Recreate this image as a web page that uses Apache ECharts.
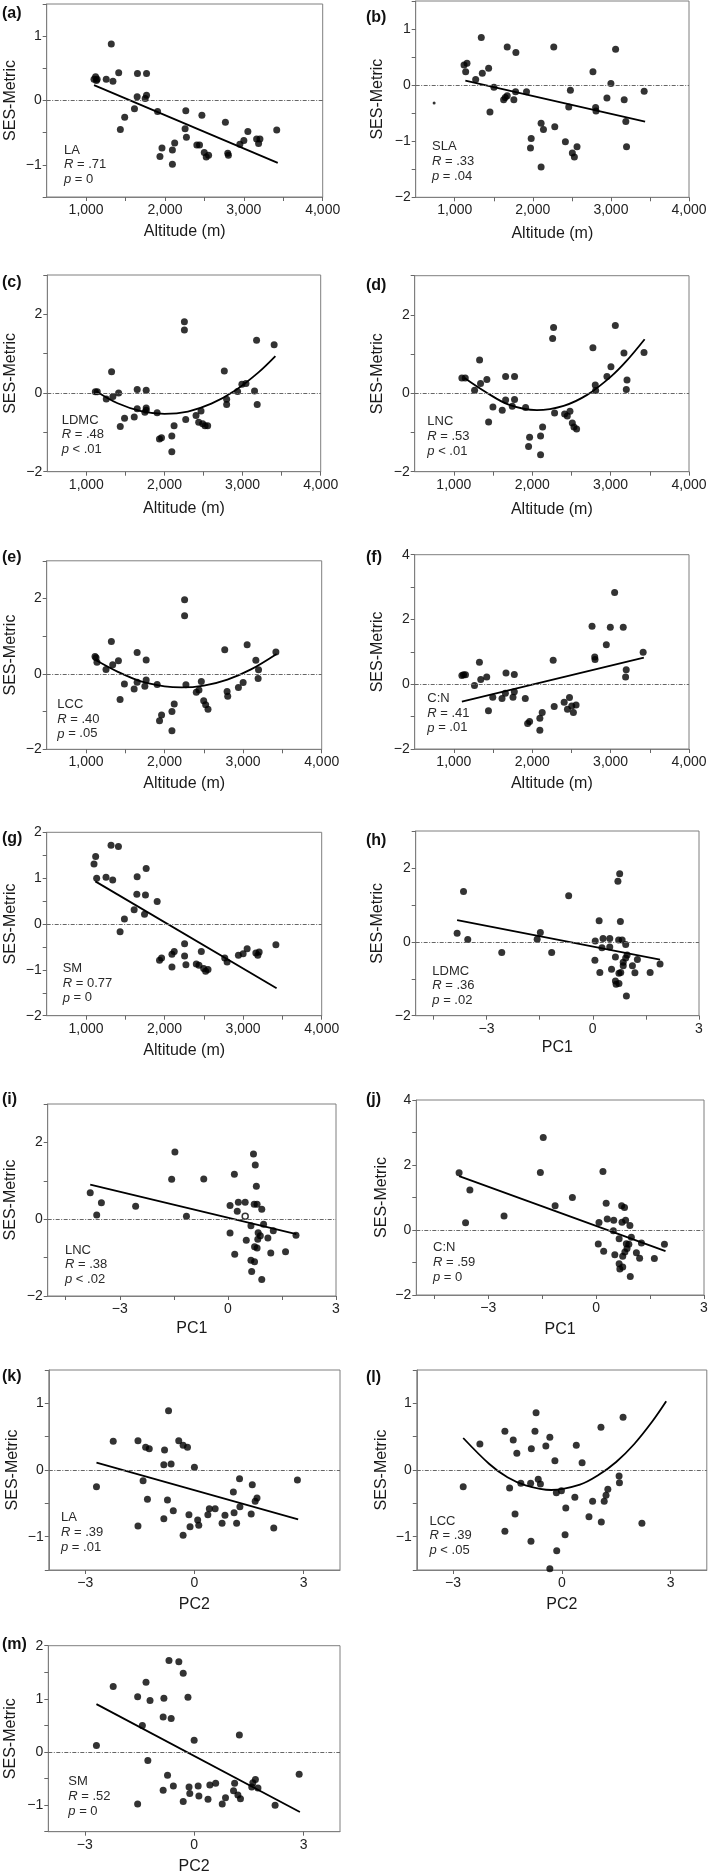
<!DOCTYPE html>
<html><head><meta charset="utf-8">
<script src="https://cdn.jsdelivr.net/npm/echarts@6/dist/echarts.min.js"></script>
<style>html,body{margin:0;padding:0;background:#fff}#chart{width:709px;height:1875px}</style>
</head><body><div id="chart"></div>
<script>
// ---------- tick values ----------
const altTicks = [1000,1500,2000,2500,3000,3500,4000];
const altLabels = [1000,2000,3000,4000];
const pc1Ticks = [-4.5,-3,-1.5,0,1.5,3];
const pc1Labels = [-3,0,3];
const pc2Ticks = [-3,0,3];
const pc2Labels = [-3,0,3];
const yTicksA = [-1.5,-1,-0.5,0,0.5,1,1.5];
const yLabelsA = [-1,0,1];
const yTicksB = [-2,-1.5,-1,-0.5,0,0.5,1,1.5];
const yLabelsB = [-2,-1,0,1];
const yTicks3 = [-2,-1,0,1,2,3];
const yLabels3 = [-2,0,2];
const yTicks4 = [-2,-1,0,1,2,3,4];
const yLabels4 = [-2,0,2,4];
const yTicksG = [-2,-1.5,-1,-0.5,0,0.5,1,1.5,2];
const yLabelsG = [-2,-1,0,1,2];
const yTicksM = [-1.5,-1,-0.5,0,0.5,1,1.5,2];
const yLabelsM = [-1,0,1,2];

// ---------- panel data ----------
const a_points = [[1100,0.33],[1120,0.37],[1130,0.31],[1140,0.33],[1255,0.33],[1319,0.88],[1340,0.30],[1413,0.43],[1434,-0.45],[1489,-0.26],[1613,-0.13],[1651,0.42],[1647,0.06],[1766,0.42],[1749,0.03],[1766,0.08],[1906,-0.17],[1936,-0.87],[1962,-0.74],[2094,-0.99],[2094,-0.77],[2123,-0.66],[2255,-0.44],[2264,-0.16],[2272,-0.57],[2404,-0.69],[2438,-0.69],[2468,-0.23],[2498,-0.81],[2523,-0.88],[2553,-0.85],[2766,-0.34],[2796,-0.82],[2804,-0.85],[2949,-0.68],[3000,-0.62],[3051,-0.48],[3162,-0.60],[3187,-0.67],[3204,-0.60],[3417,-0.46]];
const a_fit = [[1100,0.24],[3430,-0.97]];
const a_stats = ['LA','.71','= 0'];

const b_points = [[1119,0.36],[1157,0.39],[1140,0.24],[1268,0.10],[1340,0.85],[1353,0.21],[1434,0.30],[1451,-0.48],[1502,-0.04],[1626,-0.26],[1647,-0.22],[1672,-0.19],[1672,0.68],[1757,-0.26],[1779,-0.12],[1783,0.58],[1919,-0.12],[1970,-1.12],[1979,-0.95],[2106,-0.68],[2106,-1.46],[2136,-0.79],[2268,0.68],[2281,-0.74],[2417,-1.01],[2460,-0.39],[2481,-0.09],[2506,-1.21],[2532,-1.28],[2566,-1.10],[2770,0.24],[2804,-0.40],[2809,-0.46],[2949,-0.23],[3000,0.03],[3060,0.64],[3170,-0.26],[3191,-0.65],[3200,-1.10],[3426,-0.11]];
const b_small = [[736,-0.32]];
const b_fit = [[1136,0.08],[3438,-0.65]];
const b_stats = ['SLA','.33','= .04'];

const c_points = [[1115,0.03],[1140,0.03],[1255,-0.15],[1323,0.54],[1340,-0.09],[1413,0.00],[1434,-0.85],[1489,-0.64],[1613,-0.61],[1651,0.09],[1651,-0.40],[1749,-0.49],[1766,0.07],[1766,-0.38],[1766,-0.44],[1906,-0.50],[1936,-1.17],[1962,-1.14],[2094,-1.09],[2094,-1.49],[2123,-0.83],[2255,1.81],[2255,1.60],[2272,-0.67],[2404,-0.57],[2438,-0.74],[2468,-0.46],[2489,-0.78],[2519,-0.83],[2553,-0.83],[2766,0.56],[2796,-0.16],[2796,-0.29],[2936,0.04],[2991,0.22],[3043,0.24],[3153,0.05],[3179,1.34],[3187,-0.29],[3404,1.23]];
const c_fit = [[1130,0.04],[1400,-0.26],[1700,-0.46],[2000,-0.53],[2300,-0.47],[2600,-0.27],[2900,0.06],[3200,0.52],[3420,0.94]];
const c_stats = ['LDMC','.48','< .01'];

const d_points = [[1102,0.39],[1145,0.39],[1264,0.08],[1328,0.85],[1340,0.25],[1421,0.35],[1443,-0.73],[1498,-0.35],[1617,-0.43],[1660,0.43],[1660,-0.17],[1745,-0.33],[1774,0.43],[1774,-0.16],[1915,-0.36],[1953,-1.36],[1966,-1.12],[2106,-1.09],[2106,-1.57],[2132,-0.86],[2272,1.68],[2260,1.40],[2285,-0.50],[2413,-0.53],[2447,-0.58],[2481,-0.46],[2511,-0.76],[2532,-0.86],[2566,-0.91],[2774,1.16],[2804,0.21],[2809,0.07],[2953,0.43],[3004,0.68],[3060,1.73],[3170,1.03],[3209,0.34],[3200,0.10],[3426,1.04]];
const d_fit = [[1136,0.39],[1400,0.04],[1700,-0.29],[2060,-0.43],[2400,-0.32],[2700,-0.04],[3000,0.42],[3200,0.82],[3434,1.38]];
const d_stats = ['LNC','.53','< .01'];

const e_points = [[1115,0.46],[1128,0.43],[1140,0.31],[1255,0.12],[1323,0.86],[1340,0.24],[1413,0.35],[1434,-0.68],[1489,-0.27],[1613,-0.40],[1651,0.57],[1651,-0.22],[1749,-0.33],[1766,0.37],[1766,-0.16],[1906,-0.28],[1936,-1.24],[1962,-1.09],[2094,-1.00],[2094,-1.51],[2123,-0.80],[2255,1.97],[2255,1.54],[2272,-0.29],[2404,-0.49],[2438,-0.43],[2468,-0.20],[2498,-0.71],[2523,-0.82],[2553,-0.94],[2766,0.64],[2796,-0.47],[2804,-0.59],[2940,-0.36],[3000,-0.23],[3051,0.77],[3162,0.36],[3196,0.11],[3191,-0.12],[3417,0.58]];
const e_fit = [[1128,0.36],[1400,0.06],[1700,-0.20],[2000,-0.33],[2216,-0.36],[2500,-0.31],[2800,-0.15],[3100,0.12],[3426,0.53]];
const e_stats = ['LCC','.40','= .05'];

const f_points = [[1102,0.27],[1123,0.29],[1148,0.29],[1263,-0.04],[1326,0.68],[1343,0.15],[1419,0.22],[1441,-0.82],[1496,-0.40],[1614,-0.44],[1665,0.35],[1657,-0.28],[1754,-0.40],[1771,0.30],[1771,-0.23],[1911,-0.44],[1941,-1.21],[1966,-1.15],[2097,-1.05],[2097,-1.42],[2127,-0.87],[2267,0.74],[2280,-0.69],[2407,-0.56],[2449,-0.77],[2475,-0.41],[2504,-0.67],[2525,-0.87],[2559,-0.64],[2763,1.79],[2797,0.84],[2801,0.76],[2945,1.22],[2996,1.76],[3051,2.83],[3161,1.76],[3199,0.45],[3191,0.22],[3415,0.99]];
const f_fit = [[1102,-0.54],[3424,0.82]];
const f_stats = ['C:N','.41','= .01'];

const g_points = [[1102,1.31],[1123,1.47],[1136,1.00],[1255,1.02],[1319,1.72],[1340,0.96],[1413,1.69],[1434,-0.17],[1489,0.11],[1613,0.31],[1651,1.03],[1647,0.65],[1766,1.21],[1757,0.63],[1745,0.21],[1906,0.49],[1936,-0.79],[1962,-0.74],[2094,-0.66],[2094,-0.94],[2123,-0.60],[2255,-0.43],[2255,-0.70],[2272,-0.89],[2404,-0.87],[2438,-0.90],[2468,-0.60],[2498,-0.97],[2523,-1.03],[2553,-0.99],[2766,-0.74],[2796,-0.83],[2940,-0.68],[3000,-0.65],[3051,-0.54],[3162,-0.63],[3187,-0.68],[3204,-0.61],[3417,-0.45]];
const g_fit = [[1119,0.93],[3426,-1.40]];
const g_stats = ['SM','0.77','= 0'];

const h_points = [[-3.83,0.23],[-3.65,1.36],[-3.53,0.06],[-2.57,-0.29],[-1.57,0.07],[-1.48,0.25],[-1.16,-0.29],[-0.68,1.25],[0.06,-0.50],[0.07,0.02],[0.18,0.57],[0.20,-0.83],[0.26,-0.16],[0.29,0.09],[0.48,0.09],[0.48,-0.14],[0.53,-0.74],[0.64,-0.41],[0.64,-1.06],[0.66,-1.15],[0.71,1.64],[0.74,-0.85],[0.76,1.84],[0.74,-1.13],[0.73,0.05],[0.78,0.55],[0.79,-0.83],[0.83,0.05],[0.86,-0.55],[0.86,-0.65],[0.93,-0.07],[0.93,-0.44],[0.95,-1.47],[0.97,-0.36],[1.12,-0.65],[1.19,-0.84],[1.26,-0.48],[1.62,-0.83],[1.90,-0.60]];
const h_fit = [[-3.83,0.59],[1.90,-0.48]];
const h_stats = ['LDMC','.36','= .02'];

const i_points = [[-3.82,0.69],[-3.64,0.11],[-3.51,0.43],[-2.56,0.34],[-1.56,1.04],[-1.47,1.75],[-1.15,0.08],[-0.67,1.05],[0.06,-0.36],[0.06,0.36],[0.18,1.17],[0.19,-0.91],[0.26,0.21],[0.29,0.44],[0.48,0.44],[0.51,-0.55],[0.64,-0.17],[0.64,-1.07],[0.66,-1.36],[0.71,1.70],[0.74,-0.72],[0.76,1.41],[0.74,-1.11],[0.73,0.39],[0.79,0.86],[0.81,-0.75],[0.81,0.39],[0.84,-0.35],[0.83,-0.52],[0.94,0.26],[0.90,-0.43],[0.94,-1.57],[0.99,-0.13],[1.11,-0.49],[1.19,-0.88],[1.26,-0.30],[1.60,-0.85],[1.89,-0.42]];
const i_hollow = [[0.48,0.08]];
const i_fit = [[-3.82,0.90],[1.90,-0.39]];
const i_stats = ['LNC','.38','< .02'];

const j_points = [[-3.81,1.76],[-3.63,0.22],[-3.51,1.23],[-2.56,0.43],[-1.55,1.77],[-1.47,2.85],[-1.14,0.75],[-0.66,1.00],[0.06,-0.43],[0.08,0.23],[0.19,1.80],[0.21,-0.65],[0.28,0.82],[0.31,0.34],[0.49,0.30],[0.48,-0.02],[0.52,-0.76],[0.64,-0.27],[0.64,-1.04],[0.66,-1.20],[0.71,0.75],[0.74,-0.81],[0.79,0.69],[0.74,-1.14],[0.72,0.24],[0.82,0.30],[0.80,-0.68],[0.84,-0.42],[0.86,-0.57],[0.94,0.14],[0.91,-0.44],[0.95,-1.43],[0.98,-0.22],[1.12,-0.70],[1.21,-0.87],[1.26,-0.40],[1.62,-0.88],[1.90,-0.44]];
const j_fit = [[-3.81,1.66],[1.93,-0.65]];
const j_stats = ['C:N','.59','= 0'];

const k_points = [[-2.69,-0.25],[-2.23,0.43],[-1.55,0.44],[-1.55,-0.84],[-1.41,-0.16],[-1.34,0.34],[-1.24,0.32],[-1.29,-0.44],[-0.84,0.08],[-0.82,0.30],[-0.84,-0.73],[-0.74,-0.45],[-0.71,0.89],[-0.64,0.09],[-0.58,-0.61],[-0.43,0.44],[-0.31,0.37],[-0.31,-0.98],[-0.19,0.34],[-0.15,-0.67],[-0.12,-0.85],[0.00,0.04],[0.09,-0.75],[0.12,-0.83],[0.37,-0.67],[0.41,-0.58],[0.57,-0.58],[0.76,-0.80],[0.84,-0.68],[1.07,-0.33],[1.09,-0.64],[1.16,-0.80],[1.24,-0.13],[1.25,-0.55],[1.56,-0.66],[1.59,-0.22],[1.67,-0.47],[1.72,-0.42],[2.18,-0.87],[2.83,-0.15]];
const k_fit = [[-2.69,0.11],[2.85,-0.74]];
const k_stats = ['LA','.39','= .01'];

const l_points = [[-2.72,-0.25],[-2.26,0.39],[-1.57,0.58],[-1.57,-0.92],[-1.44,-0.27],[-1.34,0.45],[-1.29,-0.66],[-1.24,0.25],[-1.13,-0.20],[-0.85,-1.07],[-0.84,0.32],[-0.86,-0.20],[-0.74,0.58],[-0.71,0.86],[-0.65,-0.14],[-0.59,-0.21],[-0.44,0.36],[-0.33,0.49],[-0.33,-1.48],[-0.19,0.14],[-0.15,-0.34],[-0.14,-1.21],[-0.01,-0.31],[0.09,-0.97],[0.11,-0.57],[0.36,-0.41],[0.40,0.37],[0.56,0.11],[0.75,-0.70],[0.85,-0.47],[1.09,-0.78],[1.08,0.64],[1.17,-0.47],[1.22,-0.38],[1.27,-0.29],[1.58,-0.09],[1.59,-0.19],[1.69,0.79],[2.21,-0.80]];
const l_fit = [[-2.72,0.48],[-2.0,0.09],[-1.5,-0.11],[-1.0,-0.23],[-0.29,-0.30],[0.5,-0.22],[1.0,-0.08],[1.5,0.12],[2.0,0.39],[2.5,0.73],[2.88,1.03]];
const l_stats = ['LCC','.39','< .05'];

const m_points = [[-2.68,0.12],[-2.22,1.23],[-1.55,1.04],[-1.55,-0.98],[-1.42,0.50],[-1.32,1.31],[-1.27,-0.16],[-1.21,0.97],[-0.85,0.66],[-0.83,1.01],[-0.85,-0.72],[-0.73,-0.44],[-0.69,1.72],[-0.63,0.63],[-0.57,-0.64],[-0.42,1.70],[-0.30,1.48],[-0.30,-0.93],[-0.17,1.03],[-0.14,-0.66],[-0.12,-0.78],[0.00,0.22],[0.11,-0.64],[0.13,-0.83],[0.38,-0.89],[0.43,-0.62],[0.59,-0.59],[0.77,-0.98],[0.86,-0.86],[1.11,-0.59],[1.08,-0.73],[1.20,-0.81],[1.27,-0.88],[1.24,0.32],[1.58,-0.66],[1.61,-0.58],[1.68,-0.52],[1.75,-0.68],[2.22,-1.00],[2.88,-0.42]];
const m_fit = [[-2.68,0.90],[2.90,-1.13]];
const m_stats = ['SM','.52','= 0'];

// ---------- layout (positions in px) ----------
const FONT = '"Liberation Sans", Arial, Helvetica, sans-serif';
const ALT = 'Altitude (m)';
const panels = [
 {tag:'(a)', pts:a_points, fit:a_fit, curve:false, stats:a_stats, xr:[500,4000], yr:[-1.5,1.5], xt:altTicks, xl:altLabels, yt:yTicksA, yl:yLabelsA, xname:ALT, box:[46.7,4,276,193], tagPos:[2,14], ann:[64,150], xGap:35, yGap:28},
 {tag:'(b)', pts:b_points, small:b_small, fit:b_fit, curve:false, stats:b_stats, xr:[500,4000], yr:[-2,1.5], xt:altTicks, xl:altLabels, yt:yTicksB, yl:yLabelsB, xname:ALT, box:[415.7,1,273.3,196.3], tagPos:[366,17.5], ann:[432,146.7], xGap:36, yGap:30},
 {tag:'(c)', pts:c_points, fit:c_fit, curve:true, stats:c_stats, xr:[500,4000], yr:[-2,3], xt:altTicks, xl:altLabels, yt:yTicks3, yl:yLabels3, xname:ALT, box:[47.3,275,273.4,196.7], tagPos:[2,283], ann:[61.7,420], xGap:36.5, yGap:29},
 {tag:'(d)', pts:d_points, fit:d_fit, curve:true, stats:d_stats, xr:[500,4000], yr:[-2,3], xt:altTicks, xl:altLabels, yt:yTicks3, yl:yLabels3, xname:ALT, box:[414.7,275.7,274.3,196], tagPos:[366,286], ann:[427.3,421.7], xGap:37.5, yGap:29},
 {tag:'(e)', pts:e_points, fit:e_fit, curve:true, stats:e_stats, xr:[500,4000], yr:[-2,3], xt:altTicks, xl:altLabels, yt:yTicks3, yl:yLabels3, xname:ALT, box:[46.7,560.8,275,188.5], tagPos:[2,557.5], ann:[57.3,704.3], xGap:34, yGap:28},
 {tag:'(f)', pts:f_points, fit:f_fit, curve:false, stats:f_stats, xr:[500,4000], yr:[-2,4], xt:altTicks, xl:altLabels, yt:yTicks4, yl:yLabels4, xname:ALT, box:[414.7,554.7,274.3,194.3], tagPos:[366,557.5], ann:[427.3,698.3], xGap:34.5, yGap:29},
 {tag:'(g)', pts:g_points, fit:g_fit, curve:false, stats:g_stats, xr:[500,4000], yr:[-2,2], xt:altTicks, xl:altLabels, yt:yTicksG, yl:yLabelsG, xname:ALT, box:[46.7,832.3,275,183.4], tagPos:[2,839], ann:[62.7,968.3], xGap:35, yGap:28},
 {tag:'(h)', pts:h_points, fit:h_fit, curve:false, stats:h_stats, xr:[-5,3], yr:[-2,3], xt:pc1Ticks, xl:pc1Labels, yt:yTicks3, yl:yLabels3, xname:'PC1', box:[415.7,831,283.3,184.7], tagPos:[366,840.8], ann:[432.3,971], xGap:31.5, yGap:30},
 {tag:'(i)', pts:i_points, hollow:i_hollow, fit:i_fit, curve:false, stats:i_stats, xr:[-5,3], yr:[-2,3], xt:pc1Ticks, xl:pc1Labels, yt:yTicks3, yl:yLabels3, xname:'PC1', box:[47.7,1104,288.3,192], tagPos:[2,1100], ann:[65,1250], xGap:33, yGap:29},
 {tag:'(j)', pts:j_points, fit:j_fit, curve:false, stats:j_stats, xr:[-5,3], yr:[-2,4], xt:pc1Ticks, xl:pc1Labels, yt:yTicks4, yl:yLabels4, xname:'PC1', box:[416.3,1100,287.7,195], tagPos:[366,1100], ann:[433,1247.7], xGap:34.5, yGap:27},
 {tag:'(k)', pts:k_points, fit:k_fit, curve:false, stats:k_stats, xr:[-4,4], yr:[-1.5,1.5], xt:pc2Ticks, xl:pc2Labels, yt:yTicksA, yl:yLabelsA, xname:'PC2', box:[48.8,1370,291.2,200], tagPos:[2,1377], ann:[61,1517.7], xGap:34.5, yGap:28},
 {tag:'(l)', pts:l_points, fit:l_fit, curve:true, stats:l_stats, xr:[-4,4], yr:[-1.5,1.5], xt:pc2Ticks, xl:pc2Labels, yt:yTicksA, yl:yLabelsA, xname:'PC2', box:[416.8,1370,290,200], tagPos:[366,1378], ann:[429.5,1521], xGap:34.5, yGap:27},
 {tag:'(m)', pts:m_points, fit:m_fit, curve:false, stats:m_stats, xr:[-4,4], yr:[-1.5,2], xt:pc2Ticks, xl:pc2Labels, yt:yTicksM, yl:yLabelsM, xname:'PC2', box:[48.3,1645.7,291.7,186], tagPos:[2,1645], ann:[68.3,1781.7], xGap:34.5, yGap:30}
];

function fmt(v){
  let s = Math.abs(v) >= 1000 ? v.toLocaleString('en-US') : String(v);
  return s.replace('-', '\u2212');
}

const grids=[], xAxes=[], yAxes=[], series=[], graphics=[];
const FRAME = '#7f7f7f';
panels.forEach((p,i)=>{
  grids.push({left:p.box[0], top:p.box[1], width:p.box[2], height:p.box[3], show:true, borderColor:FRAME, borderWidth:1, backgroundColor:'transparent', containLabel:false, outerBoundsMode:'none'});
  xAxes.push({gridIndex:i, type:'value', min:p.xr[0], max:p.xr[1], name:p.xname, nameLocation:'middle', nameGap:p.xGap, nameMoveOverlap:false,
    nameTextStyle:{fontSize:16, color:'#1a1a1a', fontFamily:FONT, verticalAlign:'middle'},
    axisLine:{show:true, onZero:false, lineStyle:{color:FRAME, width:1}},
    axisTick:{show:true, inside:false, length:4, customValues:p.xt, lineStyle:{color:'#666'}},
    axisLabel:{show:true, customValues:p.xl, margin:6, fontSize:14, color:'#222', fontFamily:FONT, formatter:fmt},
    splitLine:{show:false}, minorTick:{show:false}});
  yAxes.push({gridIndex:i, type:'value', min:p.yr[0], max:p.yr[1], name:'SES-Metric', nameLocation:'middle', nameGap:p.yGap, nameMoveOverlap:false,
    nameTextStyle:{fontSize:16, color:'#1a1a1a', fontFamily:FONT},
    axisLine:{show:true, onZero:false, lineStyle:{color:FRAME, width:1}},
    axisTick:{show:true, inside:false, length:4, customValues:p.yt, lineStyle:{color:'#666'}},
    axisLabel:{show:true, customValues:p.yl, margin:5, fontSize:14, color:'#222', fontFamily:FONT, formatter:fmt},
    splitLine:{show:false}});
  series.push({type:'scatter', xAxisIndex:i, yAxisIndex:i, data:p.pts, symbol:'circle', symbolSize:7, itemStyle:{color:'#000'}, z:3,
    markLine:{silent:true, symbol:'none', label:{show:false}, animation:false,
      lineStyle:{color:'#666', width:1, type:[4,1.5,1,1.5]}, data:[{yAxis:0}]}});
  if (p.small) series.push({type:'scatter', xAxisIndex:i, yAxisIndex:i, data:p.small, symbolSize:3, itemStyle:{color:'#000'}, z:3});
  if (p.hollow) series.push({type:'scatter', xAxisIndex:i, yAxisIndex:i, data:p.hollow, symbolSize:6, itemStyle:{color:'#fff', borderColor:'#000', borderWidth:1.5}, z:3});
  series.push({type:'line', xAxisIndex:i, yAxisIndex:i, data:p.fit, symbol:'none', showSymbol:false, smooth:p.curve?0.35:false,
    lineStyle:{color:'#000', width:1.8}, z:4});
  graphics.push({type:'text', x:p.tagPos[0], y:p.tagPos[1], style:{text:p.tag, fontSize:16, fontWeight:'bold', fontFamily:FONT, fill:'#111', align:'left', verticalAlign:'middle'}});
  const lines = [p.stats[0], '{i|R} = ' + p.stats[1], '{i|p} ' + p.stats[2]];
  lines.forEach((t,k)=>{
    graphics.push({type:'text', x:p.ann[0], y:p.ann[1] + k*14.8, style:{text:t, fontSize:13, fontFamily:FONT, fill:'#2a2a2a', align:'left', verticalAlign:'middle',
      rich:{i:{fontStyle:'italic', fontSize:13, fontFamily:FONT, fill:'#2a2a2a'}}}});
  });
});

const chart = echarts.init(document.getElementById('chart'), null, {renderer:'canvas'});
chart.setOption({
  animation:false,
  backgroundColor:'#fff',
  textStyle:{fontFamily:FONT},
  grid:grids, xAxis:xAxes, yAxis:yAxes, series:series, graphic:graphics
});
</script></body></html>
